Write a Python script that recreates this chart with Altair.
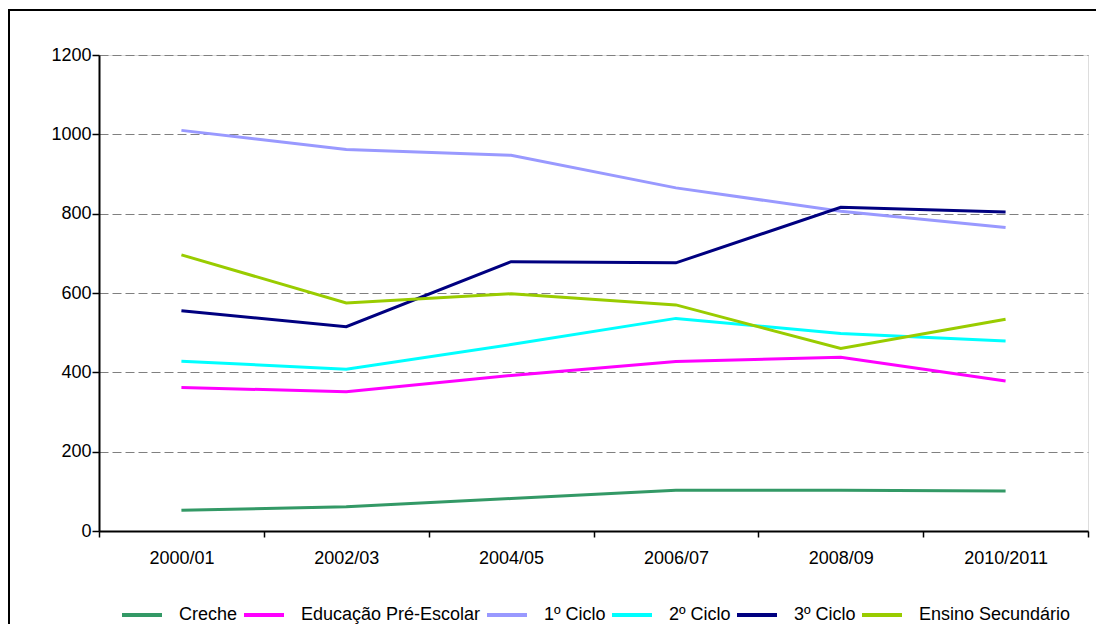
import altair as alt
import pandas as pd

categories = ["2000/01", "2002/03", "2004/05", "2006/07", "2008/09", "2010/2011"]
series_names = ["Creche", "Educação Pré-Escolar", "1º Ciclo", "2º Ciclo", "3º Ciclo", "Ensino Secundário"]
creche = [52, 61, 82, 103, 103, 101]
pre_escolar = [362, 351, 392, 427, 438, 378]
ciclo1 = [1010, 962, 947, 865, 806, 765]
ciclo2 = [428, 408, 470, 536, 498, 479]
ciclo3 = [555, 515, 679, 676, 816, 804]
secundario = [696, 575, 598, 570, 460, 534]
colors = ["#339966", "#FF00FF", "#9999FF", "#00FFFF", "#000080", "#99CC00"]

values = [creche, pre_escolar, ciclo1, ciclo2, ciclo3, secundario]
rows = []
for name, vals in zip(series_names, values):
    for c, v in zip(categories, vals):
        rows.append({"Ano": c, "Serie": name, "Valor": v})
df = pd.DataFrame(rows)

FONT = "Liberation Sans"

lines = alt.Chart(df).mark_line(strokeWidth=3).encode(
    x=alt.X("Ano:N", sort=categories, bandPosition=0.5,
            scale=alt.Scale(type="band", paddingInner=0, paddingOuter=0),
            axis=alt.Axis(title=None, labelAngle=0, tickBand="extent", grid=False,
                          domainColor="black", domainWidth=2, tickColor="black",
                          tickWidth=1.5, tickSize=6, labelPadding=12,
                          labelFontSize=18, labelColor="black", labelFont=FONT)),
    y=alt.Y("Valor:Q", scale=alt.Scale(domain=[0, 1200], nice=False),
            axis=alt.Axis(title=None, values=[0, 200, 400, 600, 800, 1000, 1200],
                          format="d",
                          grid=True, gridColor="#808080", gridDash=[9, 4], gridWidth=1,
                          domainColor="black", domainWidth=2, tickColor="black",
                          tickWidth=1.5, tickSize=7, labelPadding=1,
                          labelFontSize=18, labelColor="black", labelFont=FONT)),
    color=alt.Color("Serie:N", scale=alt.Scale(domain=series_names, range=colors),
                    legend=alt.Legend(title=None, orient="none", direction="horizontal",
                                      legendX=21, legendY=538,
                                      symbolType="stroke", symbolSize=1600,
                                      symbolStrokeWidth=4, labelOffset=15,
                                      columnPadding=-2, labelFontSize=18,
                                      labelLimit=400,
                                      labelColor="black", labelFont=FONT)),
    order=alt.Order("Serie:N"),
)

frame = alt.Chart(pd.DataFrame({"a": [0]})).mark_rect(
    fill=None, stroke="black", strokeWidth=2
).encode(
    x=alt.value(-90), x2=alt.value(1200), y=alt.value(-45), y2=alt.value(800)
)

chart = alt.layer(frame, lines).properties(
    width=989, height=476,
    autosize=alt.AutoSizeParams(type="none"),
    padding={"left": 91, "top": 47, "right": 8, "bottom": 93},
).configure_view(stroke=None).configure(background="white")

chart.save("out.html", embed_options={"renderer": "svg", "actions": False})
